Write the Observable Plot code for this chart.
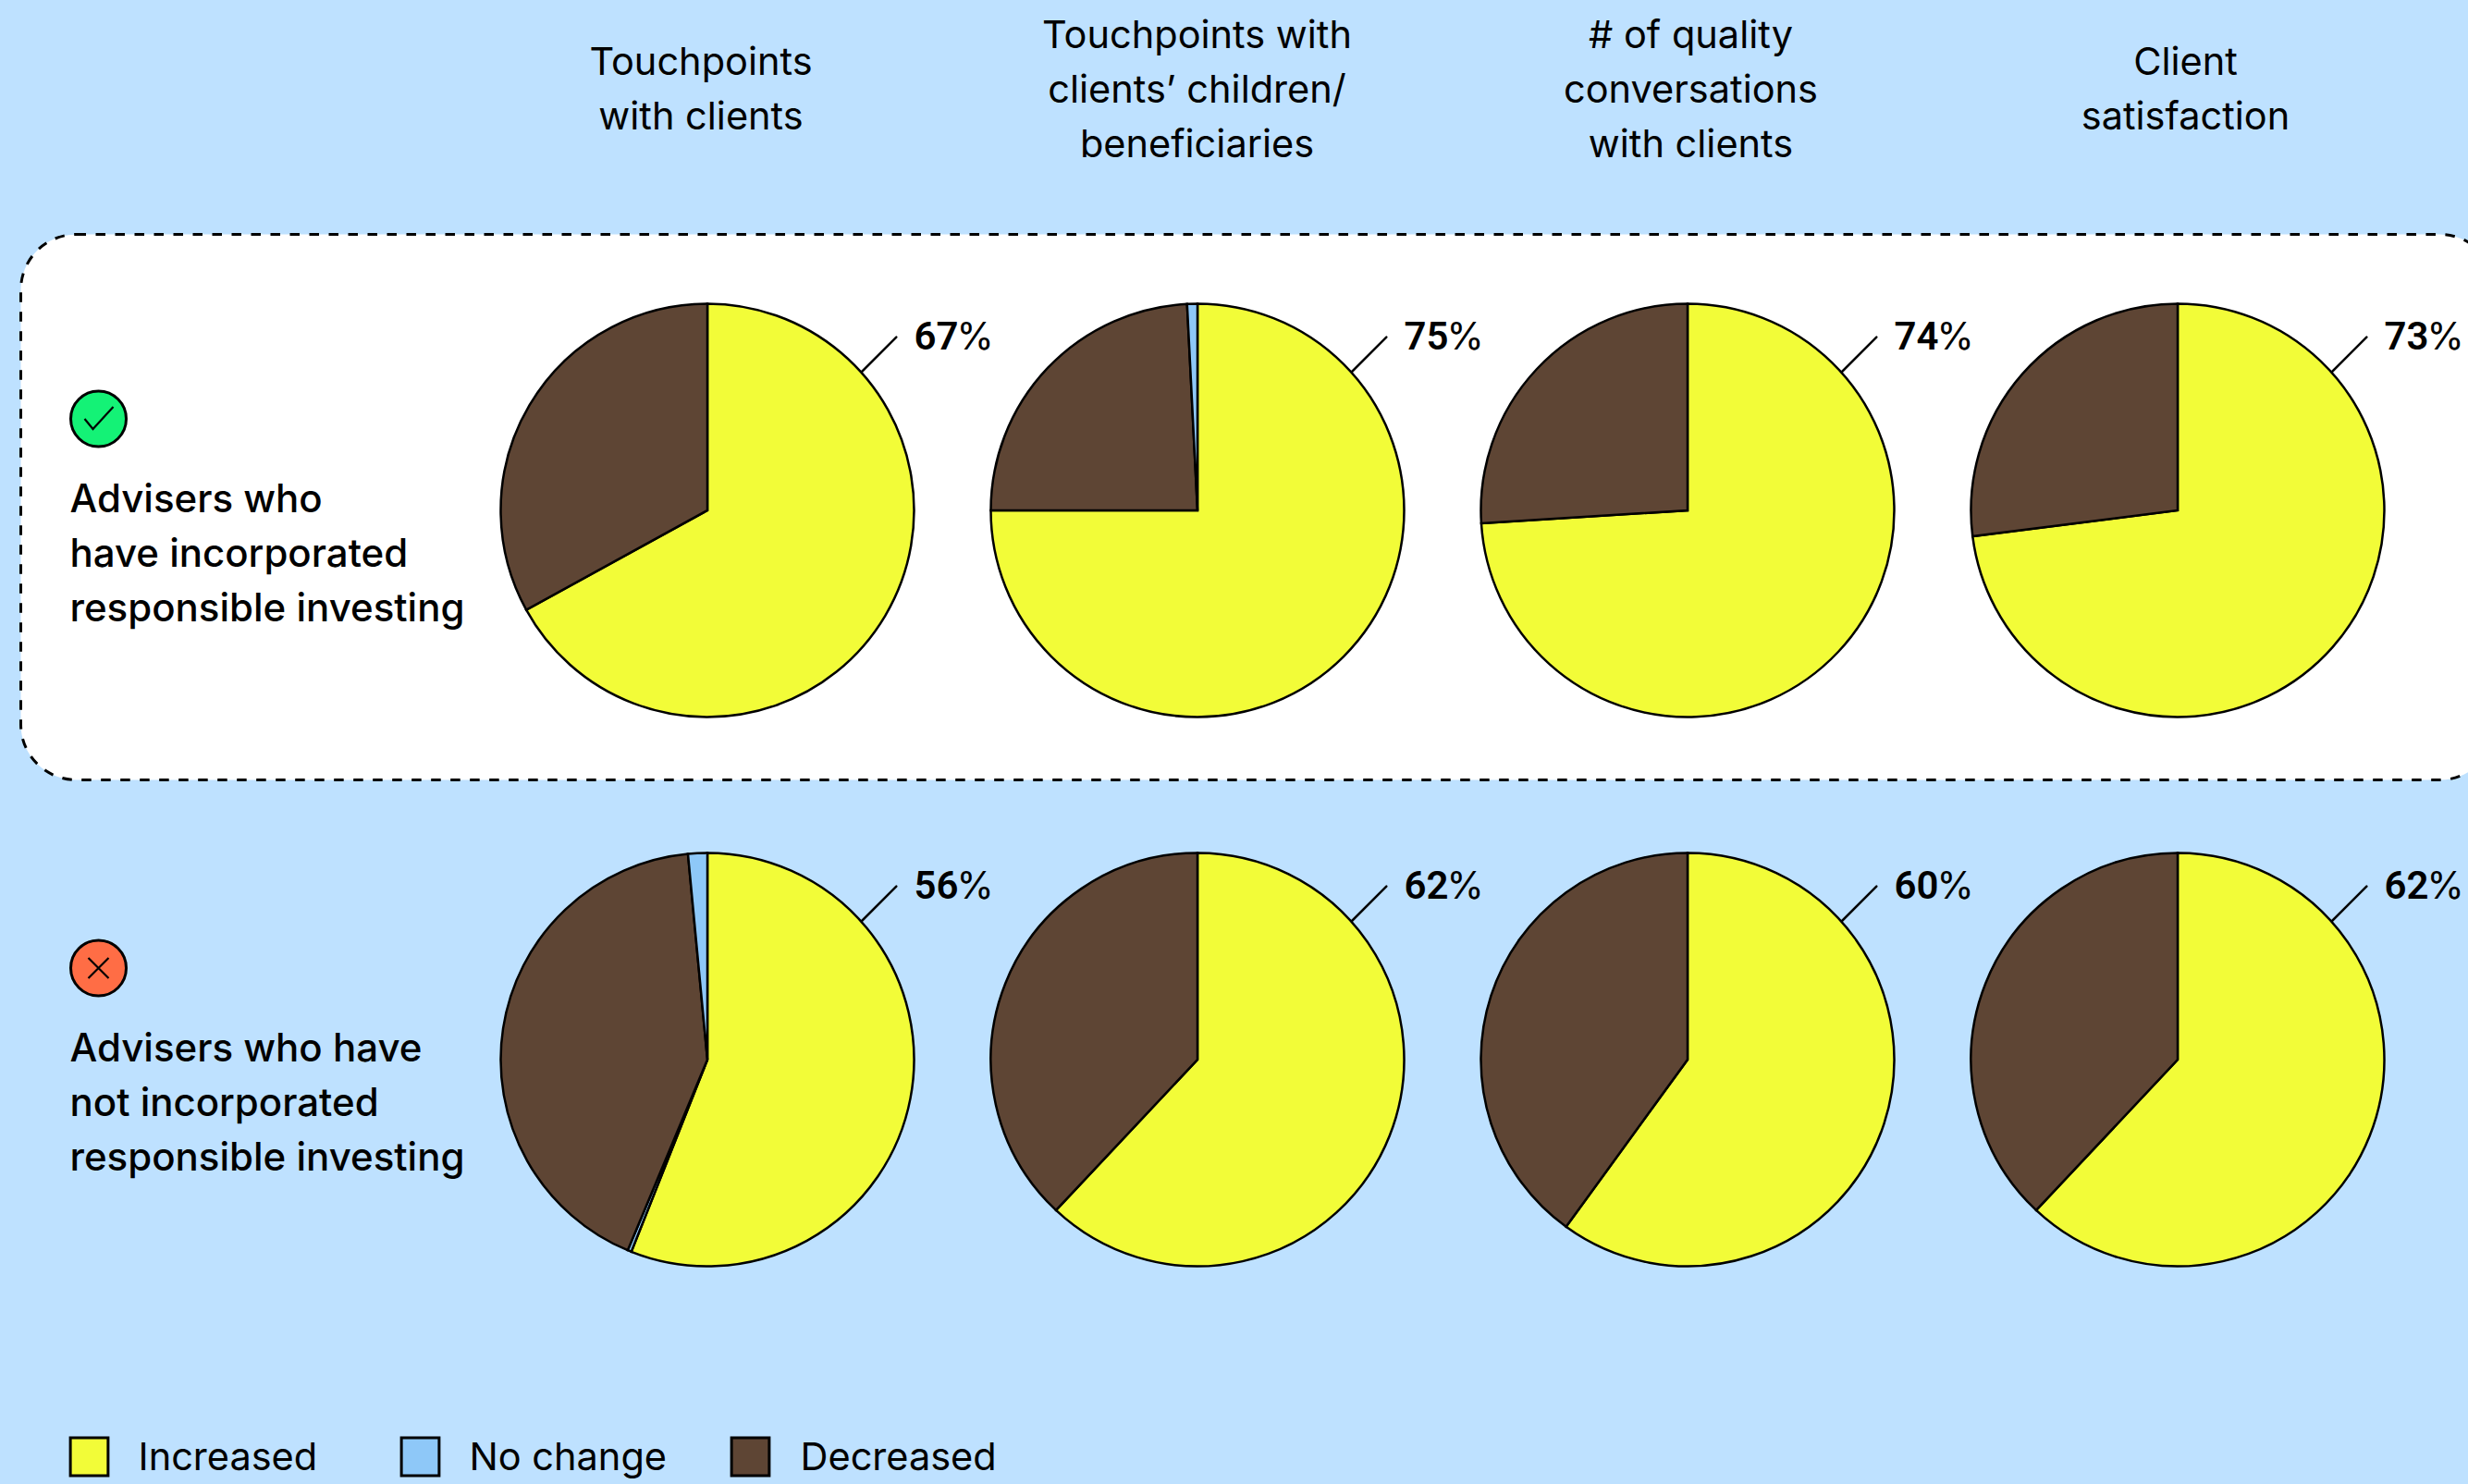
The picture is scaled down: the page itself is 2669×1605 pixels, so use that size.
<!DOCTYPE html>
<html lang="en">
<head>
<meta charset="utf-8">
<title>Advisers and responsible investing</title>
<script src="https://cdn.jsdelivr.net/npm/d3@7"></script>
<script src="https://cdn.jsdelivr.net/npm/@observablehq/plot@0.6"></script>
<style>
  html, body { margin: 0; padding: 0; background: #bee1ff; overflow: hidden; }
</style>
</head>
<body>
<div id="chart"></div>
<script>
// Survey metrics, one pie per metric and adviser group.
const columns = [
  "Touchpoints\nwith clients",
  "Touchpoints with\nclients’ children/\nbeneficiaries",
  "# of quality\nconversations\nwith clients",
  "Client\nsatisfaction"
];
const rows = [
  "Advisers who\nhave incorporated\nresponsible investing",
  "Advisers who have\nnot incorporated\nresponsible investing"
];
const categories = ["Increased", "No change", "Decreased"];
const categoryColors = ["#f2fc38", "#8ec8f8", "#5e4534"];

// Shares per pie in percent; the first index is the row, the second the column.
const increased = [[67, 75, 74, 73], [56, 62, 60, 62]];
const noChange = [[0, 0.8, 0, 0], [1.8, 0, 0, 0]];
const decreased = [[33, 24.2, 26, 27], [42.2, 38, 40, 38]];

const background = "#bee1ff";
const font = "Inter, sans-serif";
const textSize = 41.5;
const lineHeight = 1.415;

// Slices run clockwise from twelve o'clock. The small "no change" share closes
// the circle at the top, except for the thin remainder just after "increased".
const slices = [];
rows.forEach((row, r) => columns.forEach((column, c) => {
  let start = 0;
  const add = (category, value) => {
    if (value > 0) slices.push({row, column, category, start, end: start + value});
    start += value;
  };
  add("Increased", increased[r][c]);
  if (r === 1 && c === 0) {
    add("No change", 0.3);
    add("Decreased", decreased[r][c]);
    add("No change", noChange[r][c] - 0.3);
  } else {
    add("Decreased", decreased[r][c]);
    add("No change", noChange[r][c]);
  }
}));

const pieces = rows.flatMap((row, r) => columns.map((column, c) => ({row, column, value: increased[r][c]})));

// Plot has no pie mark, so the dot mark's render hook swaps each dot for a wedge.
const pieRadius = 223.5;
const wedge = d3.arc().innerRadius(0).outerRadius(pieRadius);
function renderWedges(index, scales, values) {
  const g = d3.create("svg:g");
  for (const i of index) {
    const s = slices[i];
    g.append("path")
      .attr("transform", `translate(${values.x[i]},${values.y[i]})`)
      .attr("d", wedge({startAngle: s.start / 100 * 2 * Math.PI, endAngle: s.end / 100 * 2 * Math.PI}))
      .attr("fill", values.fill[i])
      .attr("stroke", "#000")
      .attr("stroke-width", 2.5);
  }
  return g.node();
}

// Plain stroke used for the leader lines.
const leaderShape = {draw(context, length) { context.moveTo(0, 0); context.lineTo(0, -length); }};

// Glyphs inside the status badges.
const checkGlyph = {draw(context) { context.moveTo(-15, 0); context.lineTo(-6, 11); context.lineTo(16, -13); }};
const crossGlyph = {draw(context) { context.moveTo(-11, -11); context.lineTo(11, 11); context.moveTo(11, -11); context.lineTo(-11, 11); }};

const headerOffsets = [-7.5, -1, 3, 8];
const legendOffsets = [96, 454, 811];
const legendTextOffsets = [149, 507, 865];

const chart = Plot.plot({
  width: 2669,
  height: 1605,
  margin: 0,
  style: {background, fontFamily: font, color: "#000"},
  x: {type: "point", domain: columns, range: [765, 2355], padding: 0, axis: null},
  y: {type: "point", domain: rows, range: [551.5, 1145.5], padding: 0, axis: null},
  color: {domain: categories, range: categoryColors},
  marks: [
    // Highlight panel behind the first row; it runs off the right-hand edge.
    Plot.frame({
      insetLeft: 22, insetRight: -29, insetTop: 253, insetBottom: 762, rx: 60,
      fill: "#fff", stroke: "#000", strokeWidth: 3, strokeDasharray: "10.5,10.5"
    }),

    // Metric headers
    ...columns.map((column, c) => Plot.text([column], {
      x: d => d, text: d => d, frameAnchor: "top", dy: 91.5, dx: headerOffsets[c],
      lineAnchor: "middle", textAnchor: "middle", lineHeight,
      fontSize: textSize, fontWeight: 400, fill: "#000"
    })),

    // Adviser group labels and badges
    Plot.text(rows, {
      y: d => d, text: d => d, frameAnchor: "left", dx: 75, dy: 41.5,
      lineAnchor: "middle", textAnchor: "start", lineHeight: 1.4,
      fontSize: 42, fontWeight: 500, fill: "#000"
    }),
    Plot.dot(rows, {
      y: d => d, frameAnchor: "left", dx: 106, dy: -99.5, r: 30,
      fill: (d, i) => i === 0 ? "#14f276" : "#ff6d45", stroke: "#000", strokeWidth: 3
    }),
    Plot.dot(rows.slice(0, 1), {
      y: d => d, frameAnchor: "left", dx: 106, dy: -99.5, symbol: checkGlyph, r: 1, fill: "none", stroke: "#000", strokeWidth: 2.2
    }),
    Plot.dot(rows.slice(1), {
      y: d => d, frameAnchor: "left", dx: 106, dy: -99.5, symbol: crossGlyph, r: 1, fill: "none", stroke: "#000", strokeWidth: 2.2
    }),

    // Leader lines run from behind each pie's rim out to its label.
    Plot.vector(pieces, {
      x: "column", y: "row", dx: 160, dy: -144, rotate: 45, length: 62,
      anchor: "start", shape: leaderShape, stroke: "#000", strokeWidth: 2.5
    }),

    // Pies
    Plot.dot(slices, {
      x: "column", y: "row", fill: "category", r: pieRadius, render: renderWedges
    }),

    // Value labels: heavy digits followed by a lighter percent sign
    Plot.text(pieces, {
      x: "column", y: "row", text: d => String(d.value), dx: 223, dy: -188,
      textAnchor: "start", lineAnchor: "middle",
      fontFamily: "Roboto, sans-serif", fontSize: 42, fontWeight: 600, fill: "#000"
    }),
    Plot.text(pieces, {
      x: "column", y: "row", text: () => "%", dx: 269, dy: -188,
      textAnchor: "start", lineAnchor: "middle",
      fontSize: 41, fontWeight: 400, fill: "#000"
    }),

    // Legend keys along the bottom
    ...categories.map((category, k) => Plot.dot([category], {
      frameAnchor: "bottom-left", dx: legendOffsets[k], dy: -30, symbol: "square", r: 23,
      fill: d => d, stroke: "#000", strokeWidth: 3
    })),
    ...categories.map((category, k) => Plot.text([category], {
      text: d => d, frameAnchor: "bottom-left", dx: legendTextOffsets[k], dy: -28.5,
      lineAnchor: "middle", textAnchor: "start",
      fontSize: textSize, fontWeight: 400, fill: "#000"
    }))
  ]
});

document.getElementById("chart").append(chart);
</script>
</body>
</html>
